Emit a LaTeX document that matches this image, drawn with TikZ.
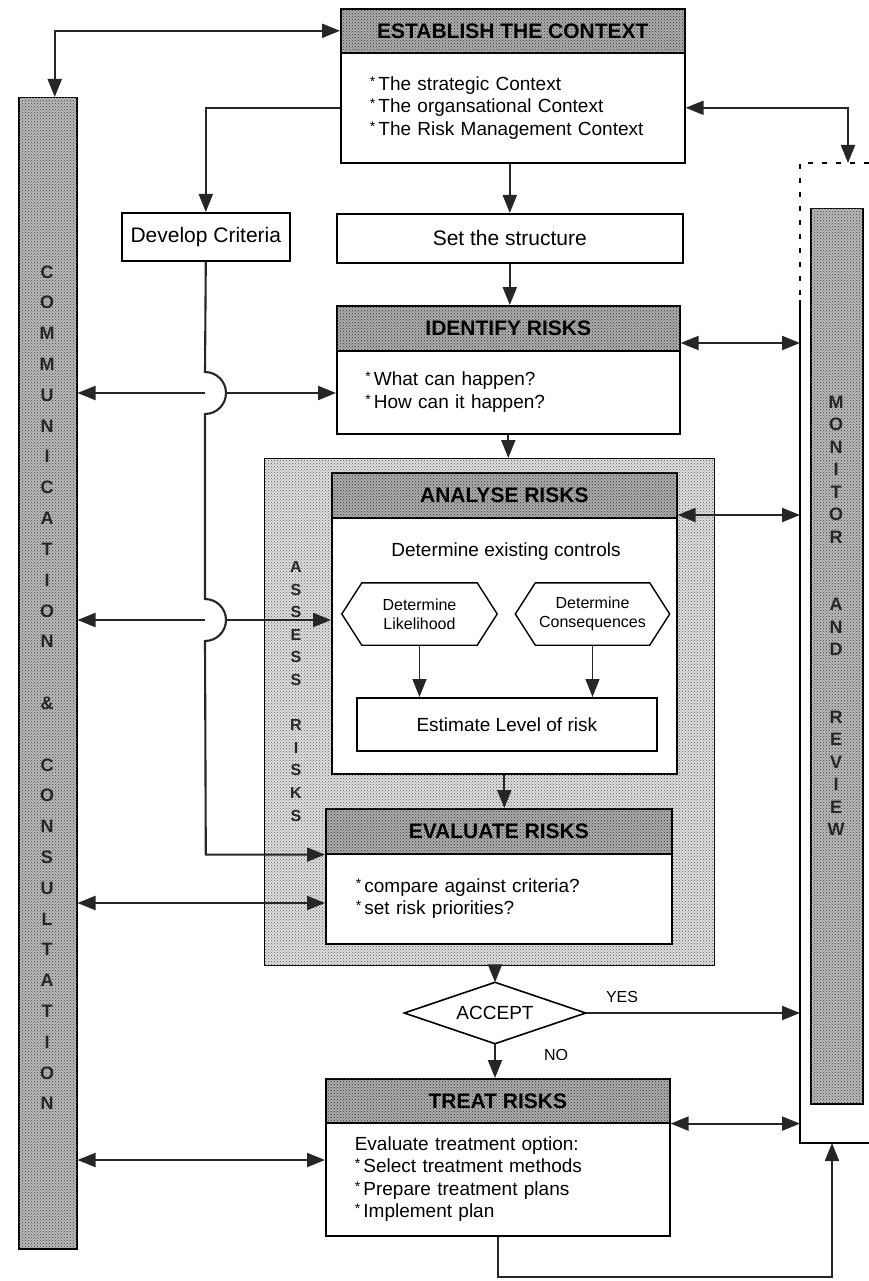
\documentclass[tikz,border=0pt]{standalone}
\usepackage{fontspec}
\setmainfont{Liberation Sans}
\usetikzlibrary{arrows.meta,patterns,calc}
\newcommand{\bl}{\raisebox{4pt}{\fontsize{14}{14}\selectfont *}\,}
\begin{document}
\begin{tikzpicture}[x=1pt,y=-1pt,
  conn/.style={line width=2.1pt, draw=black!85},
  thinconn/.style={line width=1.3pt, draw=black!85},
  tip/.style={-{Triangle[length=18pt,width=14pt]}},
  both/.style={{Triangle[length=18pt,width=14pt]}-{Triangle[length=18pt,width=14pt]}},
  box/.style={draw, line width=1.6pt, fill=white, inner sep=0pt, anchor=north west, font=\fontsize{19}{22.5}\selectfont},
  body/.style={box, text width=286pt, align=left},
  hdr/.style={draw, line width=1.6pt, fill=gray!65, postaction={pattern=crosshatch dots, pattern color=black!80}, inner sep=0pt, anchor=north west, font=\fontsize{21}{24}\selectfont\bfseries},
  col/.style={draw, line width=1.5pt, fill=gray!55, postaction={pattern=crosshatch dots, pattern color=black!75}, inner sep=0pt, anchor=north west},
  assessbox/.style={draw, line width=1.4pt, fill=gray!25, postaction={pattern=crosshatch dots, pattern color=black!65}, inner sep=0pt, anchor=north west},
  vl/.style={font=\fontsize{18}{18}\selectfont\bfseries, text=black!85, inner sep=0pt},
  vls/.style={font=\fontsize{16}{16}\selectfont\bfseries, text=black!85, inner sep=0pt},
  txt/.style={font=\fontsize{19}{22.5}\selectfont, inner sep=0pt},
  small/.style={font=\fontsize{16}{19}\selectfont, inner sep=0pt, align=center}
]
\useasboundingbox (0,0) rectangle (869,1281);
\fill[white] (0,0) rectangle (869,1281);

% side columns
\node[col, minimum width=58pt, minimum height=1151pt] (comm) at (18,97) {};
\node[col, minimum width=52pt, minimum height=895pt] (mon) at (810,208) {};
\foreach \l/\k in {C/0,O/1,M/2,M/3,U/4,N/5,I/6,C/7,A/8,T/9,I/10,O/11,N/12,\&/14,C/16,O/17,N/18,S/19,U/20,L/21,T/22,A/23,T/24,I/25,O/26,N/27}
  \node[vl] (cm\k) at (47,272+\k*30.8) {\l};
\foreach \l/\k in {M/0,O/1,N/2,I/3,T/4,O/5,R/6,A/9,N/10,D/11,R/14,E/15,V/16,I/17,E/18,W/19}
  \node[vl] (mr\k) at (836,402+\k*22.5) {\l};

% outer monitor frame
\coordinate (mrtl) at (800,163);
\coordinate (mrbl) at (800,1143);
\coordinate (mrx) at (800,0);
\coordinate (mrtop) at (848,163);
\coordinate (mrbot) at (832,1143);
\draw[line width=1.2pt, dash pattern=on 5pt off 9pt] (869,163) -- (mrtl) -- (800,300);
\draw[line width=1.5pt] (800,300) -- (mrbl) -- (869,1143);

% establish the context
\node[hdr, minimum width=344pt, minimum height=44pt] (esth) at (340,8) {ESTABLISH THE CONTEXT};
\node[body, minimum width=344pt, minimum height=110pt] (estb) at (340,52) {\bl The strategic Context\\\bl The organsational Context\\\bl The Risk Management Context};

\node[box, minimum width=168pt, minimum height=48pt, font=\fontsize{21}{24}\selectfont] (dev) at (121,212) {Develop Criteria};
\node[box, minimum width=346pt, minimum height=49pt, font=\fontsize{21}{24}\selectfont] (set) at (336,213) {Set the structure};

% identify
\node[hdr, minimum width=343pt, minimum height=45pt] (idh) at (336,305) {IDENTIFY RISKS};
\node[body, minimum width=343pt, minimum height=83pt] (idb) at (336,350) {\bl What can happen?\\\bl How can it happen?};

% assess
\node[assessbox, minimum width=450pt, minimum height=507pt] (assess) at (264,458) {};
\foreach \l/\k in {A/0,S/1,S/2,E/3,S/4,S/5,R/7,I/8,S/9,K/10,S/11}
  \node[vls] (as\k) at (296,567+\k*22.6) {\l};

% analyse
\node[hdr, minimum width=345pt, minimum height=45pt] (anh) at (331,472) {ANALYSE RISKS};
\node[box, minimum width=345pt, minimum height=256pt] (anb) at (331,517) {};
\node[txt] (dec) at (506,552) {Determine existing controls};
\node[small, minimum width=155pt, minimum height=62pt] (hl) at (419.5,614) {Determine\\Likelihood};
\node[small, minimum width=154pt, minimum height=62pt] (hc) at (592.5,614) {Determine\\Consequences};
\foreach \h in {hl,hc}
  \draw[line width=1.4pt] (\h.west) -- ($(\h.north west)+(20,0)$) -- ($(\h.north east)+(-20,0)$) -- (\h.east) -- ($(\h.south east)+(-20,0)$) -- ($(\h.south west)+(20,0)$) -- cycle;
\node[box, minimum width=300pt, minimum height=53pt] (est) at (356,697) {Estimate Level of risk};

% evaluate
\node[hdr, minimum width=346pt, minimum height=45pt] (evh) at (325,808) {EVALUATE RISKS};
\node[body, minimum width=346pt, minimum height=90pt] (evb) at (325,853) {\bl compare against criteria?\\\bl set risk priorities?};

% accept
\node[inner sep=0pt, minimum width=181pt, minimum height=61pt] (acc) at (495,1013) {};
\draw[line width=1.6pt, fill=white] (acc.west) -- (acc.north) -- (acc.east) -- (acc.south) -- cycle;
\node[txt] (acct) at (acc.center) {ACCEPT};
\node[small] (yes) at (622,997) {YES};
\node[small] (no) at (556,1055) {NO};

% treat
\node[hdr, minimum width=344pt, minimum height=44pt] (trh) at (325,1078) {TREAT RISKS};
\node[body, minimum width=344pt, minimum height=113pt] (trb) at (325,1122) {Evaluate treatment option:\\\bl Select treatment methods\\\bl Prepare treatment plans\\\bl Implement plan};

% main flow
\draw[conn, tip] (set.north |- estb.south) -- (set.north);
\draw[conn, tip] (set.south) -- (set.south |- idh.north);
\draw[conn, tip] (idb.south) -- (idb.south |- assess.north);
\draw[conn, tip] (anb.south) -- (anb.south |- evh.north);
\draw[conn, tip] (acc.north |- assess.south) -- (acc.north);
\draw[conn, tip] (acc.south) -- (acc.south |- trh.north);
\draw[thinconn, tip] (hl.south) -- (hl.south |- est.north);
\draw[thinconn, tip] (hc.south) -- (hc.south |- est.north);

% criteria line with jumps
\coordinate (j1) at (205,393);
\coordinate (j2) at (205,620);
\draw[conn, tip] (estb.west) -| (dev.north);
\draw[conn, tip] (dev.south) -- (205,372) arc[start angle=-90, end angle=90, radius=21] -- (205,599) arc[start angle=-90, end angle=90, radius=21] -- (dev.south |- evh.south west) -- (evh.south west);

% communication arrows
\draw[conn, both] (esth.west) -| ($(comm.north)+(7,0)$);
\draw[conn, tip] (j1) -- (comm.east |- j1);
\draw[conn, tip] ($(j1)+(21,0)$) -- (idb.west |- j1);
\draw[conn, tip] (j2) -- (comm.east |- j2);
\draw[conn, tip] ($(j2)+(21,0)$) -- (anb.west |- j2);
\draw[conn, both] (comm.east |- 0,903) -- (evb.west |- 0,903);
\draw[conn, both] (comm.east |- 0,1160) -- (trb.west |- 0,1160);

% monitor arrows
\draw[conn, both] (estb.east) -| (mrtop);
\draw[conn, both] (idh.east |- 0,343) -- (mrx |- 0,343);
\draw[conn, both] (anh.east |- 0,515) -- (mrx |- 0,515);
\draw[conn, tip] (acc.east) -- (mrx |- acc.east);
\draw[conn, both] (trh.south east) -- (mrx |- trh.south east);
\draw[conn, tip] (trb.south) -- (trb.south |- 0,1277) -| (mrbot);
\end{tikzpicture}
\end{document}
